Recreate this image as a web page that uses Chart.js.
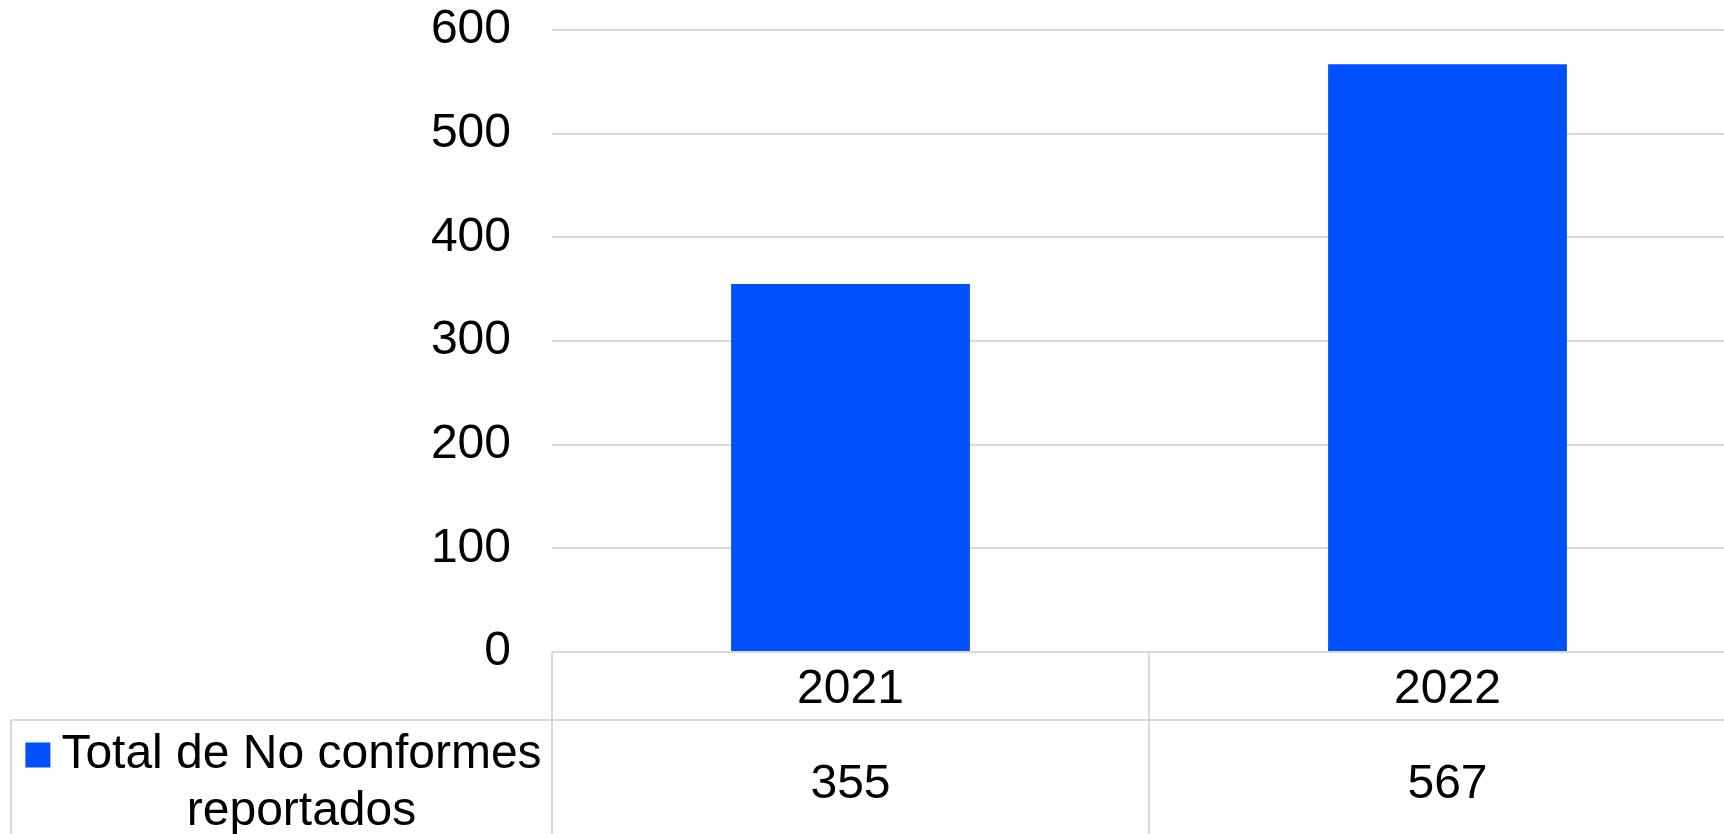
<!DOCTYPE html>
<html>
<head>
<meta charset="utf-8">
<script src="https://cdn.jsdelivr.net/npm/chart.js@4"></script>
<style>
    html, body { margin: 0; padding: 0; background: #ffffff; overflow: hidden; }
    #wrap { position: relative; width: 1760px; height: 834px; }
</style>
</head>
<body>
<div id="wrap"><canvas id="chart"></canvas></div>
<script>
// datos del gráfico
const years = ['2021', '2022'];
const noConformes = [355, 567];
const seriesLines = ['Total de No conformes', 'reportados'];
const yTicks = [0, 100, 200, 300, 400, 500, 600];

const barColor = '#0050ff';
const lineColor = '#d9d9d9';
const textColor = '#000000';
const fontFamily = '"Liberation Sans", Arial, sans-serif';
const fontSize = 48;

// tabla de datos debajo del eje x
const dataTablePlugin = {
    id: 'dataTable',
    afterDraw: function(chart) {
        const ctx = chart.ctx;
        const area = chart.chartArea;
        const x = chart.scales.x;
        const half = (x.getPixelForValue(1) - x.getPixelForValue(0)) / 2;
        const tableLeft = 11;
        const rowTop = area.bottom + 68;
        const bottom = chart.height;

        ctx.save();
        ctx.strokeStyle = lineColor;
        ctx.lineWidth = 2;

        // separadores verticales
        ctx.beginPath();
        for (let i = 0; i <= years.length; i++) {
            const px = x.getPixelForValue(i) - half;
            ctx.moveTo(px, area.bottom);
            ctx.lineTo(px, bottom);
        }
        ctx.moveTo(tableLeft, rowTop);
        ctx.lineTo(tableLeft, bottom);
        ctx.moveTo(tableLeft, rowTop);
        ctx.lineTo(chart.width, rowTop);
        ctx.stroke();

        // valores
        ctx.fillStyle = textColor;
        ctx.font = fontSize + 'px ' + fontFamily;
        ctx.textAlign = 'center';
        ctx.textBaseline = 'middle';
        const rowMid = rowTop + 65;
        noConformes.forEach((v, i) => {
            ctx.fillText(String(v), x.getPixelForValue(i), rowMid);
        });

        // leyenda
        const colLeft = tableLeft;
        const colRight = area.left;
        const w1 = ctx.measureText(seriesLines[0]).width;
        const boxSize = 25;
        const gap = 11;
        const groupW = boxSize + gap + w1;
        const startX = (colLeft + colRight) / 2 - groupW / 2 + 2;
        const line1Y = rowTop + 35;
        const line2Y = rowTop + 92;
        ctx.fillStyle = barColor;
        ctx.fillRect(startX, line1Y - boxSize / 2, boxSize, boxSize);
        ctx.fillStyle = textColor;
        ctx.textAlign = 'left';
        ctx.fillText(seriesLines[0], startX + boxSize + gap, line1Y);
        ctx.textAlign = 'center';
        ctx.fillText(seriesLines[1], startX + boxSize + gap + w1 / 2, line2Y);
        ctx.restore();
    }
};

new Chart(document.getElementById('chart'), {
    type: 'bar',
    data: {
        labels: years,
        datasets: [{
            label: seriesLines.join(' '),
            data: noConformes,
            backgroundColor: barColor,
            borderWidth: 0,
            categoryPercentage: 1.0,
            barPercentage: 0.4
        }]
    },
    options: {
        responsive: true,
        maintainAspectRatio: false,
        animation: false,
        layout: {
            padding: { top: 30, right: 14, left: 0, bottom: 0 }
        },
        plugins: {
            legend: { display: false },
            tooltip: { enabled: false }
        },
        scales: {
            x: {
                grid: { display: false },
                border: { display: false },
                ticks: {
                    color: textColor,
                    padding: 1,
                    font: { family: fontFamily, size: fontSize }
                },
                afterFit: function(scale) {
                    scale.height = 182;
                    scale.paddingLeft = 0;
                    scale.paddingRight = 0;
                }
            },
            y: {
                min: 0,
                max: 600,
                afterBuildTicks: function(scale) {
                    scale.ticks = yTicks.map(v => ({ value: v }));
                },
                grid: {
                    color: lineColor,
                    lineWidth: 2,
                    drawTicks: false
                },
                border: { display: false },
                ticks: {
                    color: textColor,
                    padding: 41,
                    font: { family: fontFamily, size: fontSize }
                },
                afterFit: function(scale) {
                    scale.width = 552;
                    scale.paddingTop = 0;
                    scale.paddingBottom = 0;
                }
            }
        }
    },
    plugins: [dataTablePlugin]
});
</script>
</body>
</html>
